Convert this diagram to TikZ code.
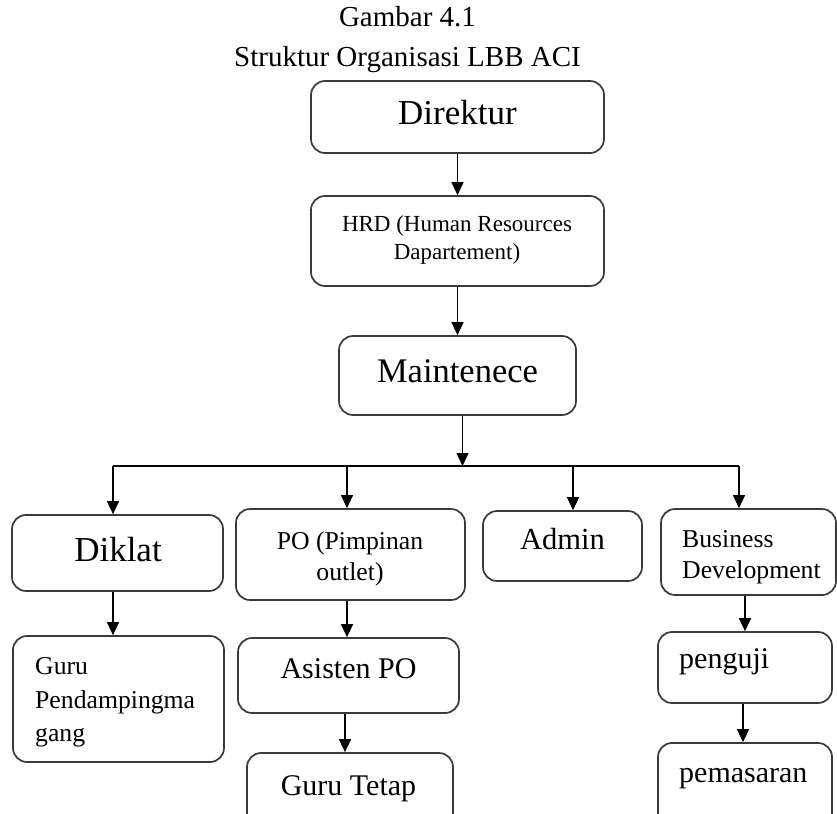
\documentclass[tikz,border=0pt]{standalone}
\usepackage{fontspec}
\setmainfont{Liberation Serif}
\usetikzlibrary{arrows.meta}
\definecolor{boxline}{HTML}{3A3A3A}
\tikzset{
  orgbox/.style={draw=boxline, line width=1.7pt, rounded corners=14pt, rectangle, inner sep=0pt, anchor=center},
  conn/.style={draw=black, line width=1.4pt, -{Triangle[width=12pt,length=13pt]}},
  bus/.style={draw=black, line width=1.4pt},
  txt/.style={inner sep=0pt, anchor=base, text=black},
  ltxt/.style={inner sep=0pt, anchor=base west, text=black},
  fA/.style={font=\fontsize{29pt}{34pt}\selectfont},
  fB/.style={font=\fontsize{35pt}{40pt}\selectfont},
  fC/.style={font=\fontsize{23pt}{28pt}\selectfont},
  fD/.style={font=\fontsize{25.7pt}{30pt}\selectfont},
  fE/.style={font=\fontsize{30pt}{35pt}\selectfont}
}
\begin{document}
\begin{tikzpicture}[x=1pt,y=-1pt]
\clip (0,0) rectangle (837,813);
\fill[white] (0,0) rectangle (837,813);

% title
\node[txt,fA] (t1) at (407.5,27) {Gambar 4.1};
\node[txt,fA] (t2) at (407.5,67) {Struktur Organisasi LBB ACI};

% boxes
\node[orgbox, minimum width=293pt, minimum height=72pt] (dir) at (457.5,117) {};
\node[orgbox, minimum width=293pt, minimum height=90pt] (hrd) at (457.5,241) {};
\node[orgbox, minimum width=237pt, minimum height=79pt] (mnt) at (457.5,375.5) {};
\node[orgbox, minimum width=211pt, minimum height=76pt] (dik) at (117.5,553) {};
\node[orgbox, minimum width=211pt, minimum height=126pt] (guru) at (118.5,699) {};
\node[orgbox, minimum width=229pt, minimum height=91pt] (po) at (350.5,554.5) {};
\node[orgbox, minimum width=221pt, minimum height=75pt] (asi) at (348.5,675.5) {};
\node[orgbox, minimum width=206pt, minimum height=87pt] (gt) at (350,796.5) {};
\node[orgbox, minimum width=159pt, minimum height=70pt] (adm) at (562.5,546) {};
\node[orgbox, minimum width=175pt, minimum height=86pt] (bd) at (748.5,552) {};
\node[orgbox, minimum width=174pt, minimum height=71pt] (pen) at (745,667.5) {};
\node[orgbox, minimum width=174pt, minimum height=87pt] (pem) at (745,786.5) {};

% texts
\node[txt,fB] (dirT) at (457.5,125) {Direktur};
\node[txt,fC] (hrdT1) at (457,231) {HRD (Human Resources};
\node[txt,fC] (hrdT2) at (457,259) {Dapartement)};
\node[txt,font=\fontsize{34.5pt}{40pt}\selectfont] (mntT) at (457.5,382) {Maintenece};
\node[txt,fB] (dikT) at (118,561) {Diklat};
\node[ltxt,fD] (guruT1) at (35,674) {Guru};
\node[ltxt,fD] (guruT2) at (35,708) {Pendampingma};
\node[ltxt,fD] (guruT3) at (35,741) {gang};
\node[txt,fD] (poT1) at (350,549) {PO (Pimpinan};
\node[txt,fD] (poT2) at (350,580) {outlet)};
\node[txt,fE] (asiT) at (348.5,678) {Asisten PO};
\node[txt,fE] (gtT) at (348.5,795) {Guru Tetap};
\node[txt,font=\fontsize{30.6pt}{35pt}\selectfont] (admT) at (562.5,549) {Admin};
\node[ltxt,fD] (bdT1) at (682,547) {Business};
\node[ltxt,fD] (bdT2) at (682,578) {Development};
\node[ltxt,fE] (penT) at (679,668) {penguji};
\node[ltxt,fE] (pemT) at (679,782) {pemasaran};

% connectors
\coordinate (j) at (462.5,466);
\coordinate (c1) at (113,466);
\coordinate (c2) at (347,466);
\coordinate (c3) at (573,466);
\coordinate (c4) at (739,466);

\draw[conn] (dir.south) -- (hrd.north);
\draw[conn] (hrd.south) -- (mnt.north);
\draw[conn] (mnt.south -| j) -- (j);
\draw[bus] (c1) -- (c4);
\draw[conn] (c1) -- (c1 |- dik.north);
\draw[conn] (c2) -- (c2 |- po.north);
\draw[conn] (c3) -- (c3 |- adm.north);
\draw[conn] (c4) -- (c4 |- bd.north);
\draw[conn] (dik.south -| c1) -- (guru.north -| c1);
\draw[conn] (po.south -| c2) -- (asi.north -| c2);
\coordinate (a2) at (345,0);
\draw[conn] (asi.south -| a2) -- (gt.north -| a2);
\coordinate (b2) at (745,0);
\draw[conn] (bd.south -| b2) -- (pen.north -| b2);
\coordinate (b3) at (743,0);
\draw[conn] (pen.south -| b3) -- (pem.north -| b3);
\end{tikzpicture}
\end{document}
